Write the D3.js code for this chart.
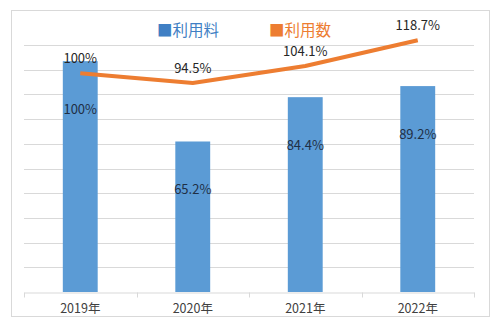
<!DOCTYPE html>
<html>
<head>
<meta charset="utf-8">
<script src="https://cdn.jsdelivr.net/npm/d3@7"></script>
<style>
  html, body { margin: 0; padding: 0; background: #fff; }
  svg { display: block; font-family: "Noto Sans CJK JP", "Noto Sans", sans-serif; }
</style>
</head>
<body>
<svg id="chart" width="501" height="332"></svg>
<script>
// Data
const years = ["2019年", "2020年", "2021年", "2022年"];
const feeValues = [100, 65.2, 84.4, 89.2];      // 利用料 (%)
const feeLabels = ["100%", "65.2%", "84.4%", "89.2%"];
const countValues = [100, 94.5, 104.1, 118.7];  // 利用数 (%)
const countLabels = ["100%", "94.5%", "104.1%", "118.7%"];
const seriesNames = ["利用料", "利用数"];

const plot = { left: 24, right: 474, top: 45, bottom: 292 };
const colors = { fee: "#5b9bd5", count: "#ed7d31" };

const svg = d3.select("#chart");

// Chart frame
svg.append("rect")
  .attr("x", 11.5).attr("y", 10.5)
  .attr("width", 478).attr("height", 306)
  .attr("fill", "#fff").attr("stroke", "#d9d9d9").attr("stroke-width", 1);

// Scales: bars on the primary axis, the line on a hidden secondary axis
const x = d3.scaleBand().domain(years)
  .range([plot.left, plot.right])
  .paddingInner(0.69).paddingOuter(0.345);
const yBar = d3.scaleLinear().domain([0, 107]).range([plot.bottom, plot.top]);
const yLine = d3.scaleLinear().domain([-24, 116]).range([plot.bottom, plot.top]);

// Horizontal gridlines (10 equal divisions)
const gridVals = d3.range(1, 11).map(i => i * 107 / 10);
svg.append("g").selectAll("line").data(gridVals).join("line")
  .attr("x1", plot.left).attr("x2", plot.right)
  .attr("y1", d => Math.round(yBar(d)) + 0.5)
  .attr("y2", d => Math.round(yBar(d)) + 0.5)
  .attr("stroke", "#d9d9d9").attr("stroke-width", 1);

// Bars
svg.append("g").selectAll("rect").data(feeValues).join("rect")
  .attr("x", (d, i) => x(years[i]))
  .attr("width", x.bandwidth())
  .attr("y", d => yBar(d))
  .attr("height", d => plot.bottom - yBar(d))
  .attr("fill", colors.fee);

// Category axis
const xAxis = d3.axisBottom(x).tickSize(0).tickPadding(12);
const gx = svg.append("g")
  .attr("transform", `translate(0,${plot.bottom + 0.5})`)
  .call(xAxis);
gx.select(".domain").attr("stroke", "#d9d9d9");
gx.selectAll("text")
  .attr("font-size", 12.5).attr("fill", "#404040")
  .attr("font-family", "'Noto Sans CJK JP', sans-serif");
// tick marks on category boundaries
const bounds = years.map(y => x(y) - x.step() * x.paddingInner() / 2)
  .concat([plot.right]);
gx.append("g").selectAll("line").data(bounds).join("line")
  .attr("x1", d => Math.round(d) + 0.5).attr("x2", d => Math.round(d) + 0.5)
  .attr("y1", 0).attr("y2", 5)
  .attr("stroke", "#d9d9d9");

// Bar value labels
svg.append("g").selectAll("text").data(feeValues).join("text")
  .attr("x", (d, i) => x(years[i]) + x.bandwidth() / 2)
  .attr("y", d => yBar(d) + 53)
  .attr("text-anchor", "middle")
  .attr("font-size", 13)
  .attr("fill", "#1f2f45")
  .text((d, i) => feeLabels[i]);

// Line series
const cx = (i) => x(years[i]) + x.bandwidth() / 2;
const line = d3.line()
  .x((d, i) => cx(i))
  .y(d => yLine(d));
svg.append("path")
  .datum(countValues)
  .attr("d", line)
  .attr("fill", "none")
  .attr("stroke", colors.count)
  .attr("stroke-width", 4)
  .attr("stroke-linejoin", "round");

// Line value labels
svg.append("g").selectAll("text").data(countValues).join("text")
  .attr("x", (d, i) => cx(i))
  .attr("y", d => yLine(d) - 10)
  .attr("text-anchor", "middle")
  .attr("font-size", 13)
  .attr("fill", "#262626")
  .text((d, i) => countLabels[i]);

// Legend
const legend = svg.append("g").attr("font-size", 15.5);
legend.append("text")
  .attr("x", 157).attr("y", 36)
  .attr("fill", "#3f7fc4")
  .text("■" + seriesNames[0]);
legend.append("text")
  .attr("x", 269).attr("y", 36)
  .attr("fill", colors.count)
  .text("■" + seriesNames[1]);
</script>
</body>
</html>
